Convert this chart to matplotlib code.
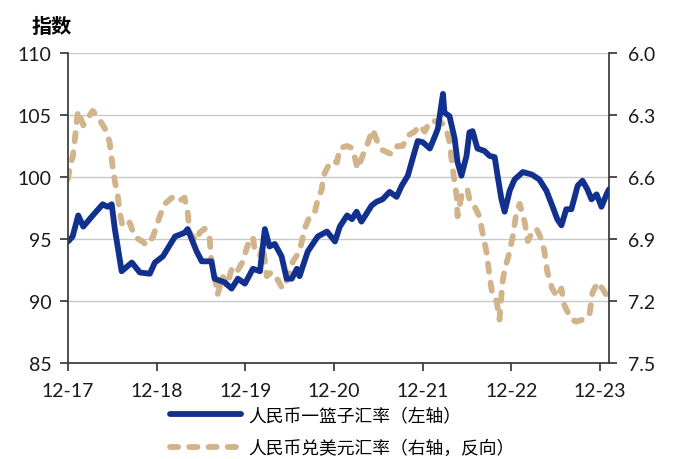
import numpy as np
import pandas as pd
import matplotlib
matplotlib.use('Agg')
import matplotlib.pyplot as plt

plt.rcParams['font.family'] = ['Lato', 'Noto Sans CJK SC', 'DejaVu Sans']

# 人民币一篮子汇率（左轴）
basket_dates = ['2017-12-01', '2017-12-20', '2018-01-12', '2018-02-02', '2018-03-13', '2018-04-23',
                '2018-05-13', '2018-05-30', '2018-06-12', '2018-07-10', '2018-08-21', '2018-09-23',
                '2018-11-03', '2018-11-24', '2018-12-27', '2019-02-15', '2019-03-26', '2019-04-08',
                '2019-05-15', '2019-06-05', '2019-07-15', '2019-07-28', '2019-09-08', '2019-10-06',
                '2019-11-01', '2019-11-30', '2020-01-02', '2020-01-31', '2020-02-20', '2020-03-10',
                '2020-04-01', '2020-04-29', '2020-05-20', '2020-06-10', '2020-07-01', '2020-07-12',
                '2020-08-15', '2020-09-25', '2020-11-02', '2020-11-27', '2020-12-05', '2020-12-25',
                '2021-01-24', '2021-02-13', '2021-03-04', '2021-03-24', '2021-05-05', '2021-05-25',
                '2021-06-19', '2021-07-18', '2021-08-16', '2021-09-06', '2021-10-01', '2021-10-30',
                '2021-11-11', '2021-12-02', '2021-12-31', '2022-01-21', '2022-02-02', '2022-02-23',
                '2022-03-01', '2022-03-22', '2022-04-12', '2022-04-24', '2022-05-10', '2022-05-31',
                '2022-06-12', '2022-06-25', '2022-07-15', '2022-08-13', '2022-09-03', '2022-09-24',
                '2022-10-06', '2022-10-22', '2022-11-04', '2022-11-25', '2022-12-15', '2023-01-18',
                '2023-02-24', '2023-03-27', '2023-04-25', '2023-05-19', '2023-06-09', '2023-06-26',
                '2023-07-16', '2023-08-06', '2023-09-01', '2023-09-21', '2023-10-11', '2023-10-28',
                '2023-11-18', '2023-12-08', '2023-12-29', '2024-01-08']
basket_vals = [94.8, 95.2, 96.9, 96.0, 96.9, 97.8,
               97.6, 97.8, 95.8, 92.4, 93.1, 92.3,
               92.2, 93.1, 93.6, 95.2, 95.5, 95.8,
               94.0, 93.2, 93.2, 91.8, 91.5, 91.0,
               91.8, 91.4, 92.6, 92.4, 95.8, 94.4,
               94.6, 93.6, 91.8, 91.8, 92.6, 92.0,
               94.0, 95.2, 95.6, 95.0, 94.8, 96.0,
               96.9, 96.6, 97.2, 96.4, 97.7, 98.0,
               98.2, 98.8, 98.4, 99.3, 100.1, 102.1,
               102.9, 102.8, 102.3, 103.3, 103.9, 106.7,
               105.2, 104.9, 103.1, 101.2, 100.1, 101.7,
               103.6, 103.7, 102.3, 102.1, 101.7, 101.6,
               100.1, 98.2, 97.2, 98.9, 99.8, 100.4,
               100.2, 99.8, 98.9, 97.7, 96.6, 96.1,
               97.4, 97.4, 99.3, 99.7, 99.0, 98.2,
               98.6, 97.6, 98.6, 99.0]

# 人民币兑美元汇率（右轴，反向）
usd_dates = ['2017-12-01', '2017-12-09', '2017-12-21', '2017-12-29', '2018-01-07', '2018-01-12',
             '2018-02-02', '2018-03-01', '2018-03-13', '2018-04-02', '2018-04-19', '2018-05-09',
             '2018-05-21', '2018-06-03', '2018-06-12', '2018-06-24', '2018-07-02', '2018-07-14',
             '2018-08-12', '2018-09-02', '2018-10-01', '2018-10-21', '2018-11-16', '2018-12-14',
             '2019-01-04', '2019-02-02', '2019-02-27', '2019-03-26', '2019-04-08', '2019-04-16',
             '2019-05-15', '2019-05-27', '2019-06-17', '2019-07-07', '2019-07-15', '2019-07-28',
             '2019-08-09', '2019-08-30', '2019-09-16', '2019-10-10', '2019-11-01', '2019-11-21',
             '2019-12-11', '2020-01-02', '2020-01-10', '2020-01-31', '2020-02-12', '2020-02-28',
             '2020-03-19', '2020-04-09', '2020-05-03', '2020-05-24', '2020-06-14', '2020-07-12',
             '2020-08-02', '2020-08-23', '2020-09-13', '2020-09-25', '2020-10-12', '2020-10-16',
             '2020-11-06', '2020-11-27', '2020-12-13', '2020-12-25', '2021-01-24', '2021-02-13',
             '2021-02-26', '2021-03-08', '2021-03-28', '2021-04-18', '2021-05-09', '2021-05-29',
             '2021-06-19', '2021-07-26', '2021-08-20', '2021-09-10', '2021-10-01', '2021-10-30',
             '2021-11-19', '2021-12-10', '2021-12-31', '2022-01-29', '2022-02-19', '2022-03-09',
             '2022-03-22', '2022-04-03', '2022-04-20', '2022-04-24', '2022-05-14', '2022-06-04',
             '2022-06-12', '2022-07-02', '2022-07-23', '2022-08-05', '2022-08-21', '2022-09-03',
             '2022-09-16', '2022-10-02', '2022-10-14', '2022-10-26', '2022-11-04', '2022-11-25',
             '2022-12-07', '2022-12-23', '2023-01-05', '2023-01-26', '2023-02-08', '2023-02-24',
             '2023-03-15', '2023-04-04', '2023-04-17', '2023-04-29', '2023-05-19', '2023-06-09',
             '2023-06-26', '2023-07-08', '2023-08-06', '2023-08-27', '2023-09-21', '2023-10-19',
             '2023-11-01', '2023-11-22', '2023-12-12', '2024-01-02']
usd_vals = [6.61, 6.55, 6.50, 6.42, 6.32, 6.28,
            6.35, 6.30, 6.28, 6.31, 6.34, 6.38,
            6.43, 6.55, 6.62, 6.69, 6.77, 6.84,
            6.82, 6.89, 6.91, 6.93, 6.89, 6.79,
            6.73, 6.70, 6.72, 6.70, 6.77, 6.87,
            6.91, 6.87, 6.85, 6.89, 7.01, 7.08,
            7.17, 7.08, 7.13, 7.03, 7.05, 7.01,
            6.93, 6.89, 6.96, 6.98, 6.93, 7.08,
            7.06, 7.09, 7.14, 7.09, 7.01, 6.96,
            6.85, 6.79, 6.77, 6.71, 6.66, 6.60,
            6.55, 6.52, 6.53, 6.46, 6.45, 6.46,
            6.51, 6.56, 6.50, 6.44, 6.37, 6.43,
            6.47, 6.49, 6.45, 6.45, 6.40, 6.38,
            6.35, 6.38, 6.33, 6.33, 6.34, 6.37,
            6.43, 6.55, 6.69, 6.79, 6.67, 6.66,
            6.71, 6.74, 6.79, 6.87, 6.96, 7.08,
            7.18, 7.20, 7.29, 7.11, 7.05, 6.96,
            6.89, 6.77, 6.73, 6.82, 6.91, 6.87,
            6.85, 6.90, 6.96, 7.06, 7.14, 7.18,
            7.14, 7.22, 7.29, 7.30, 7.29, 7.27,
            7.16, 7.11, 7.14, 7.18]

tick_dates = ['2017-12-01', '2018-12-01', '2019-12-01', '2020-12-01',
              '2021-12-01', '2022-12-01', '2023-12-01']
tick_labels = ['12-17', '12-18', '12-19', '12-20', '12-21', '12-22', '12-23']
left_ticks = [85, 90, 95, 100, 105, 110]
right_ticks = [6.0, 6.3, 6.6, 6.9, 7.2, 7.5]

blue = '#12318F'
tan = '#D2B48C'
spine_c = '#404040'

fig = plt.figure(figsize=(6.78, 4.6), dpi=100)
ax = fig.add_axes([0.1003, 0.2087, 0.7979, 0.6739])
ax2 = ax.twinx()
ax.set_zorder(ax2.get_zorder() + 1)
ax.patch.set_visible(False)

ax.plot(pd.to_datetime(basket_dates), basket_vals, color=blue, lw=4.2,
        solid_joinstyle='round', solid_capstyle='round', label='人民币一篮子汇率（左轴）')
ax2.plot(pd.to_datetime(usd_dates), usd_vals, color=tan, lw=4.2,
         dashes=(1.4, 1.9), dash_capstyle='round', dash_joinstyle='round',
         label='人民币兑美元汇率（右轴，反向）')

ax.set_xlim(pd.Timestamp('2017-12-01'), pd.Timestamp('2024-01-08'))
ax.set_ylim(85, 110)
ax.set_yticks(left_ticks)
ax2.set_ylim(7.5, 6.0)
ax2.set_yticks(right_ticks)
ax2.set_yticklabels([f'{v:.1f}' for v in right_ticks])
ax.set_xticks(pd.to_datetime(tick_dates))
ax.set_xticklabels(tick_labels)

ax2.grid(axis='y', color='#C8C8C8', lw=1.0)
ax2.set_axisbelow(True)

for s in ['top']:
    ax.spines[s].set_visible(False)
    ax2.spines[s].set_visible(False)
ax.spines['right'].set_visible(False)
ax2.spines['left'].set_visible(False)
ax2.spines['bottom'].set_visible(False)
for a, s in [(ax, 'left'), (ax, 'bottom'), (ax2, 'right')]:
    a.spines[s].set_color(spine_c)
    a.spines[s].set_linewidth(1.3)

ax.tick_params(axis='both', direction='out', length=6, width=1.3, color=spine_c,
               labelsize=14, labelcolor='#1a1a1a', pad=6)
ax.tick_params(axis='x', pad=8)
ax2.tick_params(axis='y', direction='out', length=6, width=1.3, color=spine_c,
                labelsize=14, labelcolor='#1a1a1a', pad=8)

fig.text(0.046, 0.942, '指数', fontsize=14.5, fontweight='bold',
         family=['Noto Sans CJK SC'], ha='left', va='center')

h1, l1 = ax.get_legend_handles_labels()
h2, l2 = ax2.get_legend_handles_labels()
fig.legend(h1 + h2, l1 + l2, loc='center', bbox_to_anchor=(0.505, 0.06),
           frameon=False, handlelength=4.0, labelspacing=0.85,
           handletextpad=0.4, prop={'family': ['Noto Sans CJK SC'], 'size': 12.8})

fig.savefig('out.png', dpi=100)
